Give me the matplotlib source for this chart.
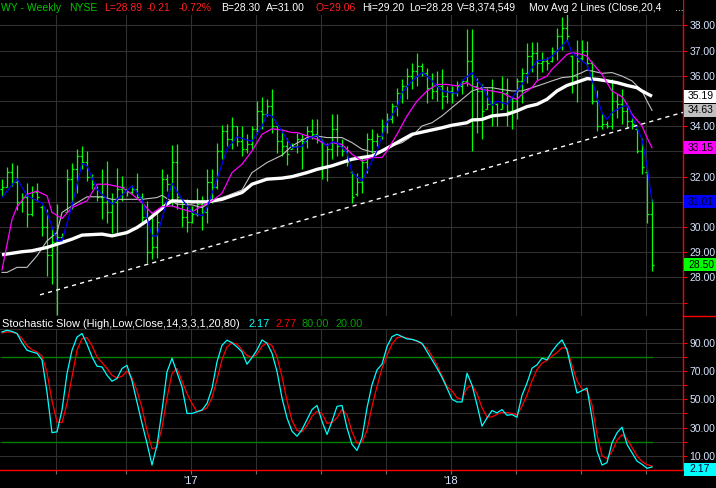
import matplotlib
matplotlib.use('Agg')
import matplotlib.pyplot as plt
import matplotlib.transforms as mtransforms
from matplotlib.patches import Rectangle
from matplotlib.lines import Line2D
import numpy as np

plt.rcParams['font.family'] = ['Liberation Sans', 'DejaVu Sans']

# weekly bars, WY, index 0 = first week shown
opens = [31.5, 31.6, 32.2, 31.8, 31.0, 31.2, 30.5, 31.4, 30.8, 30.0,
         28.9, 29.4, 29.6, 30.6, 31.9, 32.3, 32.8, 32.6, 32.0, 31.6,
         31.2, 31.0, 30.6, 31.0, 31.5, 31.5, 31.4, 31.5, 31.2, 30.4,
         29.0, 29.2, 30.8, 31.9, 31.7, 32.6, 31.1, 30.4, 30.2, 30.5,
         30.9, 30.6, 31.8, 31.6, 33.0, 33.8, 33.5, 34.0, 33.4, 33.1,
         33.3, 33.9, 34.6, 34.5, 34.8, 34.0, 33.4, 33.2, 33.1, 33.2,
         33.5, 33.4, 33.8, 33.7, 33.4, 32.4, 33.1, 33.9, 33.2, 33.0,
         32.2, 31.3, 31.8, 32.6, 33.5, 33.4, 33.6, 34.0, 34.3, 34.8,
         35.3, 35.6, 36.0, 36.2, 36.4, 36.1, 35.5, 35.4, 35.6, 35.2,
         35.4, 35.3, 35.6, 35.8, 36.6, 35.6, 35.4, 34.7, 34.9, 34.9,
         34.7, 35.3, 34.6, 35.0, 35.8, 36.1, 36.8, 36.9, 36.5, 36.6,
         36.6, 37.0, 37.6, 37.9, 36.8, 36.0, 36.7, 37.0, 36.5, 35.0,
         34.0, 34.1, 34.0, 35.0, 34.9, 34.6, 34.2, 33.9, 33.0, 32.2,
         30.5]
highs = [31.92, 32.40, 32.56, 32.45, 31.37, 31.74, 31.63, 31.74, 30.87, 30.71,
         30.05, 30.91, 29.78, 32.29, 32.53, 33.09, 33.22, 33.02, 32.10, 31.63,
         32.29, 32.62, 31.37, 32.33, 32.03, 31.50, 31.66, 32.14, 31.37, 31.04,
         30.58, 30.58, 32.29, 32.10, 33.24, 33.28, 31.10, 31.10, 30.84, 31.53,
         31.24, 32.29, 32.29, 33.35, 34.04, 34.10, 34.38, 34.01, 34.01, 33.68,
         34.01, 35.00, 35.17, 35.07, 35.49, 34.01, 33.88, 33.55, 33.35, 33.75,
         33.68, 34.01, 34.30, 34.30, 33.48, 33.35, 34.47, 34.47, 33.48, 33.22,
         32.23, 32.16, 32.82, 33.75, 33.88, 33.75, 34.27, 34.54, 34.94, 35.53,
         35.86, 36.32, 36.52, 36.92, 36.52, 36.32, 36.13, 36.19, 36.26, 35.60,
         35.60, 35.79, 35.89, 37.87, 37.87, 35.93, 35.66, 35.53, 35.86, 34.94,
         35.99, 35.93, 35.20, 35.93, 36.32, 37.31, 37.36, 37.36, 36.96, 36.76,
         37.16, 37.89, 38.35, 38.48, 36.83, 37.42, 37.42, 37.40, 36.60, 35.44,
         34.48, 34.21, 35.87, 35.27, 35.47, 34.81, 34.34, 33.95, 33.55, 32.29,
         31.10]
lows = [31.24, 31.57, 31.63, 30.68, 30.58, 30.02, 30.44, 31.04, 29.65, 28.07,
        27.74, 26.51, 29.41, 30.58, 30.71, 31.37, 32.29, 31.83, 31.50, 31.04,
        30.31, 30.15, 29.76, 29.78, 31.04, 31.24, 31.30, 31.10, 30.18, 28.59,
        28.73, 28.79, 30.78, 31.44, 30.84, 30.71, 30.02, 29.81, 30.15, 30.42,
        29.89, 30.18, 30.97, 31.50, 32.69, 33.22, 33.09, 33.22, 32.82, 32.95,
        33.09, 33.68, 33.88, 34.41, 33.75, 32.95, 32.82, 32.45, 33.09, 32.95,
        32.29, 33.15, 33.48, 33.35, 31.92, 31.83, 32.69, 32.82, 32.82, 32.43,
        30.97, 31.24, 31.37, 32.16, 32.95, 33.22, 33.48, 33.75, 34.14, 34.41,
        34.94, 35.07, 35.46, 35.60, 35.99, 34.94, 35.07, 35.00, 34.67, 34.94,
        34.94, 35.20, 35.27, 35.60, 33.02, 33.75, 33.51, 34.67, 34.01, 34.01,
        34.67, 34.01, 33.88, 34.27, 34.94, 35.73, 36.17, 35.84, 36.17, 36.23,
        36.56, 36.63, 37.03, 37.36, 35.31, 34.98, 36.63, 36.37, 34.88, 33.81,
        33.88, 33.95, 33.88, 34.34, 34.08, 33.95, 33.88, 32.95, 32.09, 30.16,
        28.26]
closes = [31.6, 32.2, 31.8, 31.0, 31.2, 30.5, 31.4, 31.2, 30.0, 28.9,
          29.4, 29.6, 29.5, 31.9, 32.3, 32.8, 32.6, 32.0, 31.7, 31.2,
          31.0, 30.6, 31.0, 31.5, 31.6, 31.4, 31.5, 31.2, 30.4, 29.0,
          29.2, 30.2, 31.9, 31.7, 32.6, 31.2, 30.4, 30.2, 30.5, 30.9,
          30.6, 31.8, 31.6, 33.0, 33.8, 33.5, 34.0, 33.4, 33.1, 33.3,
          33.9, 34.6, 34.5, 34.8, 34.0, 33.4, 33.2, 32.9, 33.2, 33.5,
          33.4, 33.8, 33.7, 33.5, 32.4, 33.1, 33.9, 33.2, 33.0, 32.6,
          31.2, 31.8, 32.6, 33.5, 33.4, 33.6, 34.0, 34.3, 34.8, 35.3,
          35.6, 36.0, 36.2, 36.4, 36.1, 35.5, 35.4, 35.6, 35.2, 35.4,
          35.3, 35.6, 35.8, 36.6, 35.6, 35.4, 34.6, 34.9, 35.4, 34.5,
          35.3, 34.6, 35.0, 35.8, 36.1, 36.8, 36.9, 36.5, 36.6, 36.5,
          37.0, 37.6, 37.9, 37.6, 36.0, 36.6, 37.0, 36.5, 35.0, 34.0,
          34.1, 34.0, 35.0, 34.9, 34.6, 34.2, 34.1, 33.0, 32.4, 30.5,
          28.5]

# moving average lines, read at (bar index, value)
blue_idx = [0, 3, 5, 8, 9, 11, 12, 14, 16, 17, 19, 22, 23, 26, 28, 30, 31, 34, 36, 38,
            40, 41, 43, 45, 47, 50, 52, 53, 54, 56, 58, 60, 61, 63, 65, 66, 67, 69, 70, 72,
            73, 75, 76, 77, 79, 80, 82, 84, 85, 86, 88, 90, 91, 92, 94, 95, 96, 98, 99, 101,
            102, 104, 106, 107, 109, 110, 112, 113, 114, 116, 117, 118, 119, 120, 121, 122, 124, 125, 126, 128,
            129, 130]
blue_val = [31.17, 31.92, 31.24, 30.95, 30.58, 29.45, 29.45, 30.84, 32.52, 32.43,
            31.50, 30.91, 31.10, 31.63, 31.10, 29.65, 29.65, 31.73, 31.10, 30.60,
            30.44, 30.77, 31.90, 33.09, 33.58, 33.40, 34.00, 34.47, 34.40, 33.80,
            33.15, 33.20, 33.50, 33.64, 33.22, 33.38, 33.35, 32.95, 32.16, 31.83,
            32.23, 33.02, 33.61, 34.14, 34.74, 35.33, 35.80, 36.13, 35.99, 35.80,
            35.40, 35.33, 35.30, 35.80, 36.13, 35.80, 35.60, 34.83, 35.00, 34.87,
            35.13, 35.66, 36.32, 36.59, 36.65, 36.78, 37.18, 37.42, 36.92, 36.59,
            36.45, 35.86, 35.13, 34.54, 34.27, 34.54, 34.78, 34.83, 34.41, 33.48,
            32.43, 31.01]
mag_idx = [0, 2, 3, 5, 7, 9, 10, 12, 14, 17, 19, 21, 24, 26, 28, 30, 32, 34, 36, 38,
           40, 42, 44, 46, 48, 50, 52, 54, 56, 58, 59, 61, 63, 65, 66, 68, 70, 72, 74, 76,
           77, 79, 81, 83, 85, 87, 89, 91, 93, 94, 96, 98, 100, 102, 103, 104, 106, 107, 109, 110,
           112, 113, 114, 116, 117, 118, 120, 121, 122, 124, 125, 126, 128, 129, 130]
mag_val = [28.30, 30.30, 30.80, 31.30, 31.43, 31.24, 30.58, 30.34, 30.77, 31.04,
           31.70, 31.70, 31.57, 31.30, 30.97, 30.54, 30.81, 30.84, 30.71, 30.60,
           30.84, 31.04, 31.34, 32.16, 32.49, 33.02, 33.68, 33.90, 33.85, 33.75,
           33.75, 33.62, 33.48, 33.24, 33.35, 33.28, 32.89, 32.62, 32.76, 32.76,
           33.02, 33.68, 34.41, 35.00, 35.40, 35.66, 35.66, 35.60, 35.73, 35.60,
           35.46, 35.40, 35.33, 35.13, 35.07, 35.27, 35.53, 35.80, 35.99, 36.26,
           36.65, 36.85, 36.92, 36.85, 36.78, 36.52, 36.06, 35.73, 35.40, 35.17,
           34.87, 34.47, 34.01, 33.55, 33.15]
grey_idx = [0, 1, 3, 5, 7, 9, 11, 12, 14, 17, 20, 22, 24, 28, 31, 32, 33, 35, 38, 40,
            42, 45, 48, 50, 53, 56, 58, 61, 63, 65, 68, 70, 72, 74, 76, 78, 80, 82, 84, 86,
            88, 90, 92, 94, 96, 98, 100, 102, 104, 106, 108, 110, 112, 114, 116, 117, 118, 120, 122, 124,
            126, 128, 129, 130]
grey_val = [28.20, 28.20, 28.40, 28.40, 28.86, 29.45, 29.78, 30.58, 30.84, 31.20,
            31.20, 31.10, 31.10, 31.10, 31.17, 31.26, 31.13, 30.91, 30.88, 30.77,
            31.04, 31.24, 31.47, 32.16, 32.56, 32.85, 33.22, 33.55, 33.61, 33.55,
            33.55, 33.35, 33.09, 32.98, 33.02, 33.22, 33.35, 33.61, 34.01, 34.14,
            34.41, 34.74, 35.07, 35.40, 35.53, 35.53, 35.46, 35.40, 35.40, 35.53,
            35.66, 35.80, 35.93, 35.97, 36.13, 36.23, 36.19, 36.10, 36.13, 35.99,
            35.80, 35.40, 35.00, 34.63]
white_idx = [0, 4, 6, 9, 11, 14, 16, 20, 22, 25, 27, 29, 31, 33, 34, 38, 41, 44, 46, 48,
             50, 53, 56, 58, 61, 63, 66, 68, 70, 72, 74, 76, 78, 80, 82, 85, 88, 90, 93, 94,
             96, 98, 101, 103, 105, 107, 109, 111, 113, 115, 117, 119, 121, 123, 125, 127, 128, 130]
white_val = [28.90, 29.02, 29.06, 29.19, 29.32, 29.52, 29.68, 29.72, 29.65, 29.78,
             29.98, 30.25, 30.58, 30.91, 31.04, 31.00, 31.00, 31.10, 31.24, 31.37,
             31.70, 31.90, 31.94, 32.00, 32.16, 32.29, 32.43, 32.56, 32.69, 32.76,
             32.82, 33.02, 33.24, 33.46, 33.68, 33.81, 33.94, 34.04, 34.14, 34.25,
             34.27, 34.41, 34.47, 34.61, 34.78, 34.87, 35.07, 35.40, 35.62, 35.75,
             35.89, 35.86, 35.80, 35.73, 35.62, 35.53, 35.40, 35.19]

# hand drawn trend line
trend_idx = [7.6, 136.2]
trend_val = [27.31, 34.55]

# stochastic slow %K (cyan) and %D (red)
stoch_k = [97.6, 98.8, 98.0, 96.5, 90.0, 84.7, 83.5, 82.5, 78.0, 55.0,
           26.4, 27.0, 42.4, 68.2, 84.7, 94.0, 96.5, 89.0, 80.0, 73.4,
           72.9, 67.0, 62.8, 64.7, 71.8, 74.0, 63.0, 48.0, 33.0, 18.8,
           3.5, 17.6, 42.0, 69.4, 79.0, 69.0, 58.8, 40.0, 40.0, 41.2,
           42.4, 47.0, 57.6, 76.5, 88.2, 91.8, 90.0, 87.0, 83.5, 74.8,
           79.5, 84.9, 92.0, 89.6, 82.6, 69.7, 50.9, 36.8, 27.4, 23.9,
           28.6, 35.7, 42.7, 45.7, 34.5, 25.1, 34.5, 45.0, 45.7, 29.8,
           18.1, 13.8, 22.8, 43.9, 60.3, 70.8, 74.8, 87.3, 94.3, 96.0,
           94.3, 92.7, 92.4, 91.3, 89.6, 83.8, 77.9, 72.0, 65.5, 57.9,
           50.0, 48.1, 48.1, 68.5, 60.0, 46.2, 31.0, 36.8, 42.0, 40.4,
           42.7, 38.7, 39.2, 37.3, 52.8, 61.5, 72.0, 74.4, 79.1, 77.9,
           83.8, 88.4, 92.0, 84.9, 69.7, 54.4, 56.1, 57.9, 36.8, 13.4,
           3.5, 5.2, 19.2, 26.3, 30.3, 18.1, 12.2, 6.3, 4.0, 1.2,
           2.17]
stoch_d = [97.0, 97.6, 97.5, 96.5, 93.0, 88.0, 85.0, 83.5, 80.5, 69.0,
           49.0, 34.0, 33.5, 47.0, 65.9, 84.7, 92.9, 93.6, 88.0, 80.0,
           76.0, 71.8, 67.0, 65.0, 66.3, 70.0, 65.0, 56.0, 44.0, 28.0,
           15.0, 16.0, 30.0, 51.0, 68.2, 71.8, 63.0, 54.0, 47.0, 41.2,
           42.0, 44.0, 51.0, 64.0, 78.0, 87.0, 90.0, 89.0, 84.9, 81.0,
           79.5, 82.0, 87.5, 90.0, 88.0, 80.0, 66.0, 49.0, 35.0, 28.0,
           27.0, 31.5, 38.0, 41.5, 40.0, 33.0, 33.5, 37.0, 43.0, 39.0,
           27.0, 19.0, 19.5, 28.0, 45.0, 59.0, 72.0, 81.0, 89.0, 93.5,
           94.3, 93.4, 92.3, 91.0, 89.0, 86.0, 80.5, 74.0, 66.5, 59.0,
           56.0, 51.0, 50.0, 58.0, 60.0, 54.0, 44.0, 37.5, 37.5, 39.5,
           40.6, 40.6, 40.0, 39.0, 45.0, 53.0, 63.0, 71.0, 75.5, 77.5,
           80.5, 83.0, 86.5, 86.0, 74.0, 63.0, 57.5, 56.0, 46.0, 25.0,
           10.0, 8.0, 13.0, 21.0, 25.0, 22.0, 16.0, 10.0, 6.0, 3.8,
           2.77]
stoch_levels = [80, 20]

# quarter boundaries (bar index) and their labels
qtr_pos = [10.8, 24.8, 37.8, 50.8, 63.8, 76.8, 89.8, 102.8, 115.8, 128.8]
qtr_labels = ['', '', "'17", '', '', '', "'18", '', '', '']

price_ticks = [27, 28, 29, 30, 31, 32, 33, 34, 35, 36, 37, 38]
price_labeled = [28, 29, 30, 32, 34, 36, 37, 38]
stoch_ticks = [10, 20, 30, 40, 50, 60, 70, 80, 90]
stoch_labeled = [10, 30, 50, 70, 90]

header = [("WY - Weekly", '#00c800'), ("NYSE", '#00c800'), ("L=28.89", '#ff2020'),
          ("-0.21", '#ff2020'), ("-0.72%", '#ff2020'), ("B=28.30", 'white'),
          ("A=31.00", 'white'), ("O=29.06", '#ff2020'), ("Hi=29.20", 'white'),
          ("Lo=28.28", 'white'), ("V=8,374,549", 'white'),
          ("Mov Avg 2 Lines (Close,20,4", 'white'), ("...", 'white')]
header_px = [1, 69, 104, 147, 179, 221, 266, 315, 362, 409, 457, 529, 675]

W, H = 716, 488
GRID = '#303030'
LBL = '#d8e4ff'

fig = plt.figure(figsize=(W / 100, H / 100), dpi=100, facecolor='black')
ax = fig.add_axes([0, 1 - 316 / H, 683 / W, 316 / H], facecolor='black')
ax2 = fig.add_axes([0, 1 - 470 / H, 683 / W, 154 / H], facecolor='black')

n = len(closes)
x = np.arange(n)

# ---- price panel
ax.set_xlim(-0.4, 136.2)
ax.set_ylim(26.47, 39.01)
ax.set_yticks(price_ticks)
ax.set_yticklabels([f'{t:.2f}' if t in price_labeled else '' for t in price_ticks])
ax.set_xticks(qtr_pos)
ax.grid(True, color=GRID, lw=0.8)
ax.set_axisbelow(True)
ax.tick_params(axis='x', length=0, labelbottom=False)
ax.tick_params(axis='y', left=False, labelleft=False, right=True, labelright=True,
               color='red', labelcolor=LBL, length=3, width=0.8, pad=1.5, labelsize=7.5)
for s in ['left', 'top', 'bottom']:
    ax.spines[s].set_visible(False)
ax.spines['right'].set_color('red')
ax.spines['right'].set_linewidth(1)

ax.vlines(x, lows, highs, color='#00ff00', lw=0.9, zorder=2)
ax.hlines(opens, x - 0.45, x, color='#00ff00', lw=0.9, zorder=2)
ax.hlines(closes, x, x + 0.45, color='#00ff00', lw=0.9, zorder=2)

ax.plot(grey_idx, grey_val, color='#c0c0c0', lw=0.8, zorder=3)
ax.plot(white_idx, white_val, color='white', lw=2.4, zorder=3, solid_capstyle='butt')
ax.plot(mag_idx, mag_val, color='#ff00ff', lw=0.9, zorder=4)
ax.plot(blue_idx, blue_val, color='#0000ff', lw=0.9, zorder=4)
ax.plot(trend_idx, trend_val, color='white', lw=1.0, ls=(0, (3, 3)), zorder=5)

# header strip
ax.add_patch(Rectangle((0, 1 - 15 / H), 683 / W, 15 / H, transform=fig.transFigure,
                       facecolor='black', edgecolor='none', zorder=8, clip_on=False))
for (txt, col), px in zip(header, header_px):
    fig.text(px / W, 1 - 8 / H, txt, color=col, fontsize=7.5, va='center', ha='left', zorder=9)

# value boxes at right
ppx = 316 / (39.01 - 26.47)
bh = 13 / ppx
blend = mtransforms.blended_transform_factory(fig.transFigure, ax.transData)
boxes = [(white_val[-1], 'white', 'black'), (grey_val[-1], '#c0c0c0', 'black'),
         (mag_val[-1], '#ff00ff', 'black'), (blue_val[-1], '#0000ff', '#000030'),
         (closes[-1], '#00ff00', 'black')]
for val, fc, tc in boxes:
    ax.add_patch(Rectangle((684 / W, val - bh / 2), 32 / W, bh, transform=blend,
                           facecolor=fc, edgecolor='none', clip_on=False, zorder=6))
    ax.text(688 / W, val, f'{val:.2f}', transform=blend, ha='left', va='center',
            color=tc, fontsize=7.5, zorder=7, clip_on=False)

# ---- stochastic panel
ax2.set_xlim(-0.4, 136.2)
ax2.set_ylim(0, 108.9)
ax2.set_yticks(stoch_ticks)
ax2.set_yticklabels([f'{t:.2f}' if t in stoch_labeled else '' for t in stoch_ticks])
ax2.yaxis.grid(True, color=GRID, lw=0.8)
ax2.axhline(100, color=GRID, lw=0.8, zorder=1)
ax2.vlines(qtr_pos, 0, 100, color=GRID, lw=0.8, zorder=1)
ax2.set_axisbelow(True)
ax2.set_xticks(qtr_pos)
ax2.set_xticklabels(qtr_labels)
ax2.tick_params(axis='x', color='#707070', labelcolor=LBL, length=3, width=0.8,
                pad=1, labelsize=8)
ax2.tick_params(axis='y', left=False, labelleft=False, right=True, labelright=True,
                color='red', labelcolor=LBL, length=3, width=0.8, pad=1.5, labelsize=7.5)
for s in ['left', 'top']:
    ax2.spines[s].set_visible(False)
for s in ['right', 'bottom']:
    ax2.spines[s].set_color('red')
    ax2.spines[s].set_linewidth(1)

for lv in stoch_levels:
    ax2.plot([0, n - 1], [lv, lv], color='#008000', lw=1.0, zorder=2)
ax2.plot(x, stoch_d, color='#ff0000', lw=0.9, zorder=3)
ax2.plot(x, stoch_k, color='#00ffff', lw=0.9, zorder=4)

# last %K box, kept just above the bottom line
spx = 154 / 108.9
sh = 13 / spx
sc = stoch_k[-1] - 1.8
blend2 = mtransforms.blended_transform_factory(fig.transFigure, ax2.transData)
ax2.add_patch(Rectangle((684 / W, sc - sh / 2), 32 / W, sh, transform=blend2,
                        facecolor='#00ffff', edgecolor='none', clip_on=False, zorder=6))
ax2.text(689 / W, sc, f'{stoch_k[-1]:.2f}', transform=blend2, ha='left',
         va='center', color='#000030', fontsize=7.5, zorder=7, clip_on=False)

# stochastic title
sy = 1 - 324 / H
fig.text(2 / W, sy, 'Stochastic Slow (High,Low,Close,14,3,3,1,20,80)', color='white',
         fontsize=7.9, va='center', ha='left')
fig.text(248 / W, sy, f'{stoch_k[-1]:.2f}', color='#00ffff', fontsize=7.9, va='center')
fig.text(276 / W, sy, f'{stoch_d[-1]:.2f}', color='#ff0000', fontsize=7.9, va='center')
fig.text(302 / W, sy, f'{stoch_levels[0]:.2f}', color='#00a000', fontsize=7.9, va='center')
fig.text(335 / W, sy, f'{stoch_levels[1]:.2f}', color='#00a000', fontsize=7.9, va='center')

# separator in the scale column
fig.add_artist(Line2D([683 / W, 1], [1 - 316 / H, 1 - 316 / H], color='red', lw=1,
                      transform=fig.transFigure))

fig.savefig('out.png', dpi=100, facecolor='black')
